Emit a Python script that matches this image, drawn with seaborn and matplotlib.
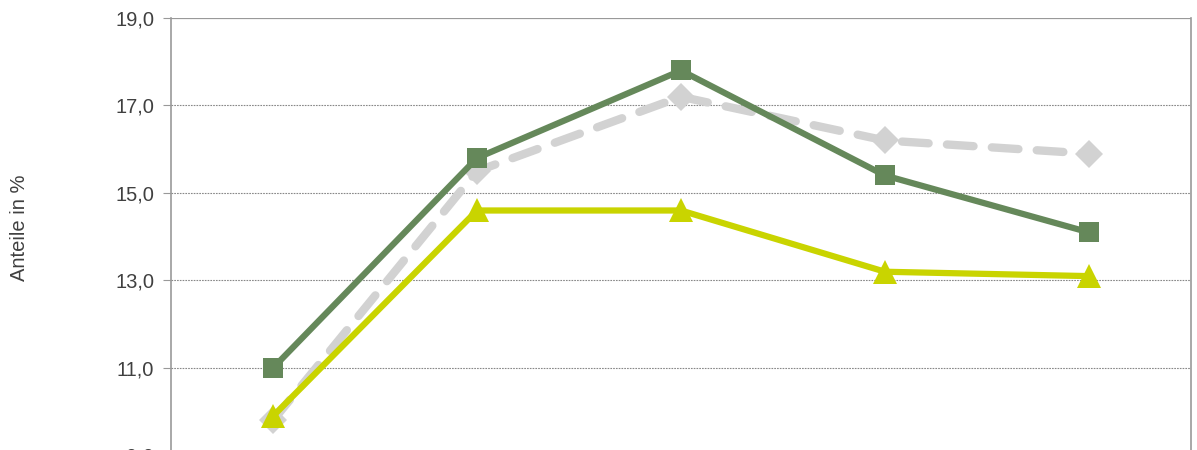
import matplotlib
matplotlib.use("Agg")
import matplotlib.pyplot as plt
import pandas as pd
import seaborn as sns

categories = ["1", "2", "3", "4", "5"]
series_gray = [9.8, 15.5, 17.2, 16.2, 15.9]
series_yellow = [9.9, 14.6, 14.6, 13.2, 13.1]
series_green = [11.0, 15.8, 17.8, 15.4, 14.1]
y_ticks = [9.0, 11.0, 13.0, 15.0, 17.0, 19.0]

sns.set_style("white")
plt.rcParams["font.family"] = ["Liberation Sans", "DejaVu Sans"]

df = pd.concat([
    pd.DataFrame({"x": range(len(categories)), "wert": series_gray, "reihe": "gray"}),
    pd.DataFrame({"x": range(len(categories)), "wert": series_yellow, "reihe": "yellow"}),
    pd.DataFrame({"x": range(len(categories)), "wert": series_green, "reihe": "green"}),
])

fig = plt.figure(figsize=(11.97, 4.5), dpi=100)
ax = fig.add_axes([171 / 1197, -0.0122, 1020 / 1197, 0.9722])

styles = {
    "gray": dict(color="#d2d2d2", marker="D", ms=14, lw=6, dash=(3.2, 2.2)),
    "yellow": dict(color="#c9d400", marker="^", ms=17, lw=4.5, dash=None),
    "green": dict(color="#65885a", marker="s", ms=15, lw=4.5, dash=None),
}
for i, (name, st) in enumerate(styles.items()):
    sub = df[df["reihe"] == name]
    sns.lineplot(data=sub, x="x", y="wert", ax=ax, color=st["color"],
                 marker=st["marker"], markersize=st["ms"], linewidth=st["lw"],
                 markeredgewidth=0, zorder=3 + i, legend=False)
    l = ax.lines[-1]
    if st["dash"]:
        l.set_dashes(st["dash"])
        l.set_dash_capstyle("round")

ax.set_xlim(-0.5, len(categories) - 0.5)
ax.set_ylim(9.0, 19.0)
ax.set_yticks(y_ticks)
ax.set_yticklabels([f"{v:.1f}".replace(".", ",") for v in y_ticks], fontsize=14.5, color="#404040")
ax.set_xticks(range(len(categories)))
ax.tick_params(axis="x", bottom=False, labelbottom=False)
ax.set_xlabel("")
ax.set_ylabel("Anteile in %", fontsize=14.5, color="#404040", labelpad=0)
ax.yaxis.set_label_coords(-142 / 1020, 0.52)

for v in y_ticks[1:-1]:
    ax.axhline(v, color="#888888", lw=0.8, ls=(0, (1.5, 1)), zorder=1)
ax.axhline(19.0, color="#999999", lw=1.6, zorder=1)

for side in ["left", "right"]:
    ax.spines[side].set_color("#999999")
    ax.spines[side].set_linewidth(1.2)
ax.spines["top"].set_visible(False)
ax.spines["bottom"].set_visible(False)
ax.tick_params(axis="y", which="both", left=True, length=6, width=0.8, color="#999999", pad=6)

fig.savefig("out.png", dpi=100)
